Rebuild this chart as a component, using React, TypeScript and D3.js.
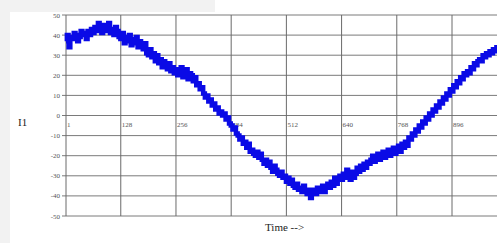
import React from "react";
import * as d3 from "d3";

const yTicks = [50, 40, 30, 20, 10, 0, -10, -20, -30, -40, -50];
const xTicks = [1, 128, 256, 384, 512, 640, 768, 896];
const sampleStep = 4;
const values = [
  37, 40, 34, 39, 38, 41, 40, 37, 39, 42, 40, 41, 38, 42, 40, 43,
  41, 44, 42, 46, 43, 41, 45, 42, 44, 46, 41, 43, 40, 44, 42, 39,
  38, 41, 36, 39, 37, 40, 35, 38, 36, 39, 34, 37, 35, 33, 36, 31,
  30, 33, 29, 31, 27, 30, 26, 28, 24, 27, 25, 23, 26, 22, 24, 21,
  23, 20, 22, 24, 19, 21, 23, 18, 21, 20, 17, 19, 15, 16, 13, 14,
  11, 9, 10, 7, 8, 5, 6, 3, 4, 1, 2, 0, 1, -2, -1, -4,
  -5, -7, -6, -9, -10, -12, -11, -14, -13, -16, -14, -18, -17, -19, -20, -18,
  -21, -19, -22, -24, -22, -25, -23, -26, -28, -25, -27, -29, -30, -28, -31, -30,
  -33, -31, -34, -32, -35, -36, -34, -37, -36, -38, -35, -37, -39, -37, -41, -38,
  -37, -39, -36, -38, -37, -35, -38, -36, -34, -36, -33, -35, -31, -34, -32, -30,
  -32, -29, -31, -27, -30, -32, -28, -31, -29, -26, -28, -25, -27, -24, -26, -23,
  -24, -22, -20, -23, -21, -19, -22, -20, -18, -21, -19, -17, -20, -18, -16, -19,
  -17, -15, -18, -14, -16, -13, -15, -11, -12, -9, -10, -7, -8, -5, -6, -3,
  -4, -1, -2, 1, 0, 3, 2, 5, 4, 7, 6, 9, 8, 11, 10, 13,
  12, 15, 14, 17, 16, 19, 18, 21, 20, 22, 21, 24, 23, 26, 25, 27,
  28, 27, 30, 29, 31, 30, 32, 31, 33, 32, 34, 33, 34,
];

const W = 497;
const H = 243;

export default function App() {
  const x = d3.scaleLinear().domain([1, 896]).range([66, 452]);
  const y = d3.scaleLinear().domain([-50, 50]).range([216, 15]);
  const pts: [number, number][] = values.map((v, i) => [i * sampleStep + 1, v]);
  const line = d3
    .line<[number, number]>()
    .x((d) => x(d[0]))
    .y((d) => y(d[1]))
    .curve(d3.curveStep);
  const xMax = x(1024);
  return (
    <div style={{ position: "absolute", left: 0, top: 0 }}>
      <svg width={W} height={H} style={{ display: "block" }}>
        <rect x={0} y={0} width={W} height={H} fill="#f2f2f2" />
        <rect x={10} y={12} width={W - 10} height={H - 12} fill="#ffffff" />
        <rect x={215} y={0} width={W - 215} height={12} fill="#ffffff" />
        {yTicks.map((t) => (
          <g key={"y" + t}>
            <line x1={62} x2={xMax} y1={y(t)} y2={y(t)} stroke="#7a7a7a" strokeWidth={1} />
            <text
              x={60}
              y={y(t) + 2.5}
              textAnchor="end"
              fontFamily="'Liberation Serif', serif"
              fontSize={7}
              fill="#555"
            >
              {t}
            </text>
          </g>
        ))}
        {xTicks.map((t) => (
          <g key={"x" + t}>
            <line x1={x(t)} x2={x(t)} y1={y(50)} y2={y(-50)} stroke="#6a6a6a" strokeWidth={1} />
            <text
              x={x(t) + 1}
              y={y(0) + 11}
              fontFamily="'Liberation Serif', serif"
              fontSize={7}
              fill="#555"
            >
              {t}
            </text>
          </g>
        ))}
        <path d={line(pts) || ""} fill="none" stroke="#0a0ae6" strokeWidth={4.5} strokeLinejoin="miter" />
        <text x={18} y={126} fontFamily="'Liberation Serif', serif" fontSize={11} fill="#222">
          I1
        </text>
        <text x={265} y={231} fontFamily="'Liberation Serif', serif" fontSize={11} fill="#222">
          Time --&gt;
        </text>
      </svg>
    </div>
  );
}
